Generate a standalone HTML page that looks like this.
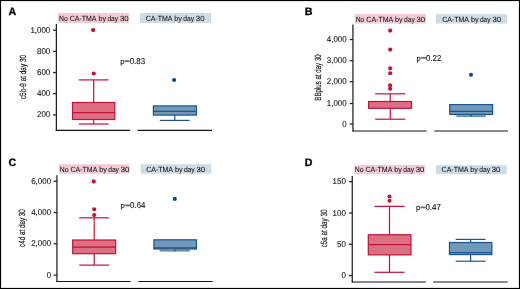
<!DOCTYPE html>
<html><head><meta charset="utf-8"><style>
html,body{margin:0;padding:0;background:#fff;}
svg{display:block;font-family:"Liberation Sans", sans-serif;will-change:transform;text-rendering:geometricPrecision;}
</style></head><body>
<svg width="520" height="289" viewBox="0 0 520 289" xmlns="http://www.w3.org/2000/svg">
<rect x="0" y="0" width="520" height="289" fill="#fff"/>
<rect x="0.5" y="0.5" width="519" height="288" fill="none" stroke="#000" stroke-width="1.2"/>
<text x="8.6" y="15.3" font-size="10.7" font-weight="bold" fill="#000" stroke="#000" stroke-width="0.3">A</text>
<rect x="58" y="13" width="71" height="10" fill="#f4cdd4"/>
<rect x="140" y="13" width="71" height="10" fill="#cfdce6"/>
<text x="59" y="20.65" font-size="7.5" fill="#111" stroke="#111" stroke-width="0.06" textLength="8.7" lengthAdjust="spacingAndGlyphs">No</text>
<text x="69.7" y="20.65" font-size="7.5" fill="#111" stroke="#111" stroke-width="0.06" textLength="26.8" lengthAdjust="spacingAndGlyphs">CA-TMA</text>
<text x="98.4" y="20.65" font-size="7.5" fill="#111" stroke="#111" stroke-width="0.06" textLength="7.6" lengthAdjust="spacingAndGlyphs">by</text>
<text x="107.4" y="20.65" font-size="7.5" fill="#111" stroke="#111" stroke-width="0.06" textLength="10.75" lengthAdjust="spacingAndGlyphs">day</text>
<text x="119.9" y="20.65" font-size="7.5" fill="#111" stroke="#111" stroke-width="0.06" textLength="8.65" lengthAdjust="spacingAndGlyphs">30</text>
<text x="145.65" y="20.65" font-size="7.5" fill="#111" stroke="#111" stroke-width="0.06" textLength="26.8" lengthAdjust="spacingAndGlyphs">CA-TMA</text>
<text x="174.35" y="20.65" font-size="7.5" fill="#111" stroke="#111" stroke-width="0.06" textLength="7.6" lengthAdjust="spacingAndGlyphs">by</text>
<text x="183.35" y="20.65" font-size="7.5" fill="#111" stroke="#111" stroke-width="0.06" textLength="10.75" lengthAdjust="spacingAndGlyphs">day</text>
<text x="195.85" y="20.65" font-size="7.5" fill="#111" stroke="#111" stroke-width="0.06" textLength="8.65" lengthAdjust="spacingAndGlyphs">30</text>
<line x1="56.35" y1="24" x2="56.35" y2="130.9" stroke="#151515" stroke-width="1.2"/>
<line x1="55.75" y1="130.3" x2="130.2" y2="130.3" stroke="#151515" stroke-width="1.2"/>
<line x1="137.6" y1="130.3" x2="211.9" y2="130.3" stroke="#151515" stroke-width="1.2"/>
<line x1="53.05" y1="30.2" x2="56.35" y2="30.2" stroke="#2a2a2a" stroke-width="1.3"/>
<text transform="translate(50.3,32.75) scale(0.95,1)" font-size="8.4" fill="#111" stroke="#111" stroke-width="0.1" text-anchor="end">1,000</text>
<line x1="53.05" y1="51.37" x2="56.35" y2="51.37" stroke="#2a2a2a" stroke-width="1.3"/>
<text transform="translate(50.3,53.92) scale(0.95,1)" font-size="8.4" fill="#111" stroke="#111" stroke-width="0.1" text-anchor="end">800</text>
<line x1="53.05" y1="72.54" x2="56.35" y2="72.54" stroke="#2a2a2a" stroke-width="1.3"/>
<text transform="translate(50.3,75.09) scale(0.95,1)" font-size="8.4" fill="#111" stroke="#111" stroke-width="0.1" text-anchor="end">600</text>
<line x1="53.05" y1="93.71" x2="56.35" y2="93.71" stroke="#2a2a2a" stroke-width="1.3"/>
<text transform="translate(50.3,96.26) scale(0.95,1)" font-size="8.4" fill="#111" stroke="#111" stroke-width="0.1" text-anchor="end">400</text>
<line x1="53.05" y1="114.88" x2="56.35" y2="114.88" stroke="#2a2a2a" stroke-width="1.3"/>
<text transform="translate(50.3,117.43) scale(0.95,1)" font-size="8.4" fill="#111" stroke="#111" stroke-width="0.1" text-anchor="end">200</text>
<line x1="93.7" y1="79.9" x2="93.7" y2="102.5" stroke="#c5103a" stroke-width="1.2"/>
<line x1="78.8" y1="79.9" x2="108.6" y2="79.9" stroke="#c5103a" stroke-width="1.2"/>
<line x1="93.7" y1="119.5" x2="93.7" y2="124" stroke="#c5103a" stroke-width="1.2"/>
<line x1="78.8" y1="124" x2="108.6" y2="124" stroke="#c5103a" stroke-width="1.2"/>
<rect x="72.5" y="102.5" width="42.3" height="17" fill="#dc7083" stroke="#c5103a" stroke-width="1.2"/>
<line x1="72.5" y1="112.6" x2="114.8" y2="112.6" stroke="#c5103a" stroke-width="1.3"/>
<circle cx="93.1" cy="30.1" r="2.05" fill="#c8102e"/>
<circle cx="93.75" cy="73.5" r="2.05" fill="#c8102e"/>
<line x1="174.75" y1="115.1" x2="174.75" y2="120.4" stroke="#1b5590" stroke-width="1.2"/>
<line x1="159.85" y1="120.4" x2="189.65" y2="120.4" stroke="#1b5590" stroke-width="1.2"/>
<rect x="153.4" y="105.9" width="43.1" height="9.2" fill="#7298b8" stroke="#1b5590" stroke-width="1.2"/>
<line x1="153.4" y1="111.3" x2="196.5" y2="111.3" stroke="#1b5590" stroke-width="1.3"/>
<circle cx="174.1" cy="80" r="2.05" fill="#0b4a85"/>
<text x="120.2" y="64" font-size="7.7" fill="#111" stroke="#111" stroke-width="0.1">p</text>
<rect x="124.8" y="60.2" width="4.9" height="1.8" fill="#6a6a6a"/>
<text x="129.7" y="64" font-size="8.5" fill="#111" stroke="#111" stroke-width="0.1" textLength="15.4" lengthAdjust="spacingAndGlyphs">0.83</text>
<text transform="translate(26.1,77.05) rotate(-90)" font-size="9.0" fill="#111" stroke="#111" stroke-width="0.15" text-anchor="middle" textLength="44.1" lengthAdjust="spacingAndGlyphs">c5b-9 at day 30</text>
<text x="304.8" y="15" font-size="10.7" font-weight="bold" fill="#000" stroke="#000" stroke-width="0.3">B</text>
<rect x="355" y="14" width="71" height="9.6" fill="#f4cdd4"/>
<rect x="436" y="14.2" width="71" height="9.4" fill="#cfdce6"/>
<text x="355.65" y="21.55" font-size="7.5" fill="#111" stroke="#111" stroke-width="0.06" textLength="8.7" lengthAdjust="spacingAndGlyphs">No</text>
<text x="366.35" y="21.55" font-size="7.5" fill="#111" stroke="#111" stroke-width="0.06" textLength="26.8" lengthAdjust="spacingAndGlyphs">CA-TMA</text>
<text x="395.05" y="21.55" font-size="7.5" fill="#111" stroke="#111" stroke-width="0.06" textLength="7.6" lengthAdjust="spacingAndGlyphs">by</text>
<text x="404.05" y="21.55" font-size="7.5" fill="#111" stroke="#111" stroke-width="0.06" textLength="10.75" lengthAdjust="spacingAndGlyphs">day</text>
<text x="416.55" y="21.55" font-size="7.5" fill="#111" stroke="#111" stroke-width="0.06" textLength="8.65" lengthAdjust="spacingAndGlyphs">30</text>
<text x="442.2" y="21.55" font-size="7.5" fill="#111" stroke="#111" stroke-width="0.06" textLength="26.8" lengthAdjust="spacingAndGlyphs">CA-TMA</text>
<text x="470.9" y="21.55" font-size="7.5" fill="#111" stroke="#111" stroke-width="0.06" textLength="7.6" lengthAdjust="spacingAndGlyphs">by</text>
<text x="479.9" y="21.55" font-size="7.5" fill="#111" stroke="#111" stroke-width="0.06" textLength="10.75" lengthAdjust="spacingAndGlyphs">day</text>
<text x="492.4" y="21.55" font-size="7.5" fill="#111" stroke="#111" stroke-width="0.06" textLength="8.65" lengthAdjust="spacingAndGlyphs">30</text>
<line x1="352.95" y1="24.6" x2="352.95" y2="131.6" stroke="#151515" stroke-width="1.2"/>
<line x1="352.35" y1="131" x2="426.5" y2="131" stroke="#151515" stroke-width="1.2"/>
<line x1="434.3" y1="131" x2="508" y2="131" stroke="#151515" stroke-width="1.2"/>
<line x1="349.65" y1="39.5" x2="352.95" y2="39.5" stroke="#2a2a2a" stroke-width="1.3"/>
<text transform="translate(346.7,42.05) scale(0.95,1)" font-size="8.4" fill="#111" stroke="#111" stroke-width="0.1" text-anchor="end">4,000</text>
<line x1="349.65" y1="60.63" x2="352.95" y2="60.63" stroke="#2a2a2a" stroke-width="1.3"/>
<text transform="translate(346.7,63.18) scale(0.95,1)" font-size="8.4" fill="#111" stroke="#111" stroke-width="0.1" text-anchor="end">3,000</text>
<line x1="349.65" y1="81.75" x2="352.95" y2="81.75" stroke="#2a2a2a" stroke-width="1.3"/>
<text transform="translate(346.7,84.3) scale(0.95,1)" font-size="8.4" fill="#111" stroke="#111" stroke-width="0.1" text-anchor="end">2,000</text>
<line x1="349.65" y1="103.5" x2="352.95" y2="103.5" stroke="#2a2a2a" stroke-width="1.3"/>
<text transform="translate(346.7,106.05) scale(0.95,1)" font-size="8.4" fill="#111" stroke="#111" stroke-width="0.1" text-anchor="end">1,000</text>
<line x1="349.65" y1="124" x2="352.95" y2="124" stroke="#2a2a2a" stroke-width="1.3"/>
<text transform="translate(346.7,126.55) scale(0.95,1)" font-size="8.4" fill="#111" stroke="#111" stroke-width="0.1" text-anchor="end">0</text>
<line x1="390.25" y1="93.8" x2="390.25" y2="101.5" stroke="#c5103a" stroke-width="1.2"/>
<line x1="375.2" y1="93.8" x2="405.3" y2="93.8" stroke="#c5103a" stroke-width="1.2"/>
<line x1="390.25" y1="108.3" x2="390.25" y2="119.2" stroke="#c5103a" stroke-width="1.2"/>
<line x1="375.2" y1="119.2" x2="405.3" y2="119.2" stroke="#c5103a" stroke-width="1.2"/>
<rect x="368.6" y="101.5" width="42.9" height="6.8" fill="#dc7083" stroke="#c5103a" stroke-width="1.2"/>
<circle cx="390.2" cy="30.6" r="2.05" fill="#c8102e"/>
<circle cx="390.2" cy="49.6" r="2.05" fill="#c8102e"/>
<circle cx="390.2" cy="68.2" r="2.05" fill="#c8102e"/>
<circle cx="390.2" cy="73.2" r="2.05" fill="#c8102e"/>
<circle cx="390.1" cy="85.4" r="2.05" fill="#c8102e"/>
<circle cx="390.1" cy="88.8" r="2.05" fill="#c8102e"/>
<line x1="471" y1="114.4" x2="471" y2="116.1" stroke="#1b5590" stroke-width="1.2"/>
<rect x="456.2" y="115.3" width="29.6" height="1.6" fill="#4f7ea6"/>
<line x1="471" y1="114.4" x2="471" y2="116.9" stroke="#1b5590" stroke-width="1"/>
<rect x="449.7" y="104.6" width="42.9" height="9.8" fill="#7298b8" stroke="#1b5590" stroke-width="1.2"/>
<line x1="449.7" y1="111.4" x2="492.6" y2="111.4" stroke="#1b5590" stroke-width="1.3"/>
<circle cx="471" cy="74.8" r="2.05" fill="#0b4a85"/>
<text x="416.5" y="60.7" font-size="7.7" fill="#111" stroke="#111" stroke-width="0.1">p</text>
<rect x="421.1" y="56.9" width="4.9" height="1.8" fill="#6a6a6a"/>
<text x="426" y="60.7" font-size="8.5" fill="#111" stroke="#111" stroke-width="0.1" textLength="15.4" lengthAdjust="spacingAndGlyphs">0.22</text>
<text transform="translate(321.3,77.5) rotate(-90)" font-size="9.0" fill="#111" stroke="#111" stroke-width="0.15" text-anchor="middle" textLength="46.4" lengthAdjust="spacingAndGlyphs">BBplus at day 30</text>
<text x="8.6" y="166.3" font-size="10.7" font-weight="bold" fill="#000" stroke="#000" stroke-width="0.3">C</text>
<rect x="58.9" y="164.2" width="70.7" height="9.5" fill="#f4cdd4"/>
<rect x="140.6" y="164.2" width="70.7" height="9.6" fill="#cfdce6"/>
<text x="59.8" y="171.75" font-size="7.5" fill="#111" stroke="#111" stroke-width="0.06" textLength="8.7" lengthAdjust="spacingAndGlyphs">No</text>
<text x="70.5" y="171.75" font-size="7.5" fill="#111" stroke="#111" stroke-width="0.06" textLength="26.8" lengthAdjust="spacingAndGlyphs">CA-TMA</text>
<text x="99.2" y="171.75" font-size="7.5" fill="#111" stroke="#111" stroke-width="0.06" textLength="7.6" lengthAdjust="spacingAndGlyphs">by</text>
<text x="108.2" y="171.75" font-size="7.5" fill="#111" stroke="#111" stroke-width="0.06" textLength="10.75" lengthAdjust="spacingAndGlyphs">day</text>
<text x="120.7" y="171.75" font-size="7.5" fill="#111" stroke="#111" stroke-width="0.06" textLength="8.65" lengthAdjust="spacingAndGlyphs">30</text>
<text x="146.2" y="171.75" font-size="7.5" fill="#111" stroke="#111" stroke-width="0.06" textLength="26.8" lengthAdjust="spacingAndGlyphs">CA-TMA</text>
<text x="174.9" y="171.75" font-size="7.5" fill="#111" stroke="#111" stroke-width="0.06" textLength="7.6" lengthAdjust="spacingAndGlyphs">by</text>
<text x="183.9" y="171.75" font-size="7.5" fill="#111" stroke="#111" stroke-width="0.06" textLength="10.75" lengthAdjust="spacingAndGlyphs">day</text>
<text x="196.4" y="171.75" font-size="7.5" fill="#111" stroke="#111" stroke-width="0.06" textLength="8.65" lengthAdjust="spacingAndGlyphs">30</text>
<line x1="56.95" y1="175.2" x2="56.95" y2="282.1" stroke="#151515" stroke-width="1.2"/>
<line x1="56.35" y1="281.5" x2="130.6" y2="281.5" stroke="#151515" stroke-width="1.2"/>
<line x1="138.3" y1="281.5" x2="212.7" y2="281.5" stroke="#151515" stroke-width="1.2"/>
<line x1="53.65" y1="181.3" x2="56.95" y2="181.3" stroke="#2a2a2a" stroke-width="1.3"/>
<text transform="translate(51.1,183.85) scale(0.95,1)" font-size="8.4" fill="#111" stroke="#111" stroke-width="0.1" text-anchor="end">6,000</text>
<line x1="53.65" y1="212.57" x2="56.95" y2="212.57" stroke="#2a2a2a" stroke-width="1.3"/>
<text transform="translate(51.1,215.12) scale(0.95,1)" font-size="8.4" fill="#111" stroke="#111" stroke-width="0.1" text-anchor="end">4,000</text>
<line x1="53.65" y1="243.83" x2="56.95" y2="243.83" stroke="#2a2a2a" stroke-width="1.3"/>
<text transform="translate(51.1,246.38) scale(0.95,1)" font-size="8.4" fill="#111" stroke="#111" stroke-width="0.1" text-anchor="end">2,000</text>
<line x1="53.65" y1="275.1" x2="56.95" y2="275.1" stroke="#2a2a2a" stroke-width="1.3"/>
<text transform="translate(51.1,277.65) scale(0.95,1)" font-size="8.4" fill="#111" stroke="#111" stroke-width="0.1" text-anchor="end">0</text>
<line x1="94.2" y1="217.8" x2="94.2" y2="240" stroke="#c5103a" stroke-width="1.2"/>
<line x1="79.2" y1="217.8" x2="109.2" y2="217.8" stroke="#c5103a" stroke-width="1.2"/>
<line x1="94.2" y1="253.7" x2="94.2" y2="265.1" stroke="#c5103a" stroke-width="1.2"/>
<line x1="79.2" y1="265.1" x2="109.2" y2="265.1" stroke="#c5103a" stroke-width="1.2"/>
<rect x="72.7" y="240" width="42.9" height="13.7" fill="#dc7083" stroke="#c5103a" stroke-width="1.2"/>
<line x1="72.7" y1="247.1" x2="115.6" y2="247.1" stroke="#c5103a" stroke-width="1.3"/>
<circle cx="93.75" cy="181.4" r="2.05" fill="#c8102e"/>
<circle cx="94.2" cy="209.3" r="2.05" fill="#c8102e"/>
<circle cx="94.2" cy="215.1" r="2.05" fill="#c8102e"/>
<line x1="174.75" y1="249" x2="174.75" y2="251.1" stroke="#1b5590" stroke-width="1.2"/>
<rect x="159.7" y="249.6" width="30.1" height="2" fill="#6a91b3"/>
<line x1="174.75" y1="249" x2="174.75" y2="251.6" stroke="#1b5590" stroke-width="1"/>
<rect x="153.9" y="239.8" width="42.55" height="9.2" fill="#7298b8" stroke="#1b5590" stroke-width="1.2"/>
<line x1="153.9" y1="247.9" x2="196.45" y2="247.9" stroke="#1b5590" stroke-width="1.3"/>
<circle cx="174.75" cy="198.9" r="2.05" fill="#0b4a85"/>
<text x="120.6" y="208.3" font-size="7.7" fill="#111" stroke="#111" stroke-width="0.1">p</text>
<rect x="125.2" y="204.5" width="4.9" height="1.8" fill="#6a6a6a"/>
<text x="130.1" y="208.3" font-size="8.5" fill="#111" stroke="#111" stroke-width="0.1" textLength="15.4" lengthAdjust="spacingAndGlyphs">0.64</text>
<text transform="translate(25.3,228.05) rotate(-90)" font-size="9.0" fill="#111" stroke="#111" stroke-width="0.15" text-anchor="middle" textLength="37.8" lengthAdjust="spacingAndGlyphs">c4d at day 30</text>
<text x="304.8" y="166.4" font-size="10.7" font-weight="bold" fill="#000" stroke="#000" stroke-width="0.3">D</text>
<rect x="354.3" y="165" width="70.7" height="9.2" fill="#f4cdd4"/>
<rect x="435.8" y="165.2" width="71" height="9" fill="#cfdce6"/>
<text x="354.85" y="172.25" font-size="7.5" fill="#111" stroke="#111" stroke-width="0.06" textLength="8.7" lengthAdjust="spacingAndGlyphs">No</text>
<text x="365.55" y="172.25" font-size="7.5" fill="#111" stroke="#111" stroke-width="0.06" textLength="26.8" lengthAdjust="spacingAndGlyphs">CA-TMA</text>
<text x="394.25" y="172.25" font-size="7.5" fill="#111" stroke="#111" stroke-width="0.06" textLength="7.6" lengthAdjust="spacingAndGlyphs">by</text>
<text x="403.25" y="172.25" font-size="7.5" fill="#111" stroke="#111" stroke-width="0.06" textLength="10.75" lengthAdjust="spacingAndGlyphs">day</text>
<text x="415.75" y="172.25" font-size="7.5" fill="#111" stroke="#111" stroke-width="0.06" textLength="8.65" lengthAdjust="spacingAndGlyphs">30</text>
<text x="441.6" y="172.25" font-size="7.5" fill="#111" stroke="#111" stroke-width="0.06" textLength="26.8" lengthAdjust="spacingAndGlyphs">CA-TMA</text>
<text x="470.3" y="172.25" font-size="7.5" fill="#111" stroke="#111" stroke-width="0.06" textLength="7.6" lengthAdjust="spacingAndGlyphs">by</text>
<text x="479.3" y="172.25" font-size="7.5" fill="#111" stroke="#111" stroke-width="0.06" textLength="10.75" lengthAdjust="spacingAndGlyphs">day</text>
<text x="491.8" y="172.25" font-size="7.5" fill="#111" stroke="#111" stroke-width="0.06" textLength="8.65" lengthAdjust="spacingAndGlyphs">30</text>
<line x1="352.25" y1="176.1" x2="352.25" y2="282.6" stroke="#151515" stroke-width="1.2"/>
<line x1="351.65" y1="282" x2="425.9" y2="282" stroke="#151515" stroke-width="1.2"/>
<line x1="433.2" y1="282" x2="507.7" y2="282" stroke="#151515" stroke-width="1.2"/>
<line x1="348.95" y1="181.7" x2="352.25" y2="181.7" stroke="#2a2a2a" stroke-width="1.3"/>
<text transform="translate(345.9,184.25) scale(0.95,1)" font-size="8.4" fill="#111" stroke="#111" stroke-width="0.1" text-anchor="end">150</text>
<line x1="348.95" y1="212.97" x2="352.25" y2="212.97" stroke="#2a2a2a" stroke-width="1.3"/>
<text transform="translate(345.9,215.52) scale(0.95,1)" font-size="8.4" fill="#111" stroke="#111" stroke-width="0.1" text-anchor="end">100</text>
<line x1="348.95" y1="244.23" x2="352.25" y2="244.23" stroke="#2a2a2a" stroke-width="1.3"/>
<text transform="translate(345.9,246.78) scale(0.95,1)" font-size="8.4" fill="#111" stroke="#111" stroke-width="0.1" text-anchor="end">50</text>
<line x1="348.95" y1="275.5" x2="352.25" y2="275.5" stroke="#2a2a2a" stroke-width="1.3"/>
<text transform="translate(345.9,278.05) scale(0.95,1)" font-size="8.4" fill="#111" stroke="#111" stroke-width="0.1" text-anchor="end">0</text>
<line x1="389.5" y1="206.4" x2="389.5" y2="234.75" stroke="#c5103a" stroke-width="1.2"/>
<line x1="374.4" y1="206.4" x2="404.6" y2="206.4" stroke="#c5103a" stroke-width="1.2"/>
<line x1="389.5" y1="254.85" x2="389.5" y2="272.3" stroke="#c5103a" stroke-width="1.2"/>
<line x1="374.4" y1="272.3" x2="404.6" y2="272.3" stroke="#c5103a" stroke-width="1.2"/>
<rect x="368.3" y="234.75" width="42.65" height="20.1" fill="#dc7083" stroke="#c5103a" stroke-width="1.2"/>
<line x1="368.3" y1="244.55" x2="410.95" y2="244.55" stroke="#c5103a" stroke-width="1.3"/>
<circle cx="389.5" cy="196.5" r="2.05" fill="#c8102e"/>
<circle cx="389.5" cy="200.8" r="2.05" fill="#c8102e"/>
<line x1="470.6" y1="239.4" x2="470.6" y2="242.5" stroke="#1b5590" stroke-width="1.2"/>
<line x1="455.6" y1="239.4" x2="485.6" y2="239.4" stroke="#1b5590" stroke-width="1.2"/>
<line x1="470.6" y1="254.6" x2="470.6" y2="261.2" stroke="#1b5590" stroke-width="1.2"/>
<line x1="455.6" y1="261.2" x2="485.6" y2="261.2" stroke="#1b5590" stroke-width="1.2"/>
<rect x="449.45" y="242.5" width="42.4" height="12.1" fill="#7298b8" stroke="#1b5590" stroke-width="1.2"/>
<line x1="449.45" y1="252.7" x2="491.85" y2="252.7" stroke="#1b5590" stroke-width="1.3"/>
<text x="415.9" y="210.3" font-size="7.7" fill="#111" stroke="#111" stroke-width="0.1">p</text>
<rect x="420.5" y="206.5" width="4.9" height="1.8" fill="#6a6a6a"/>
<text x="425.4" y="210.3" font-size="8.5" fill="#111" stroke="#111" stroke-width="0.1" textLength="15.4" lengthAdjust="spacingAndGlyphs">0.47</text>
<text transform="translate(327.4,228.4) rotate(-90)" font-size="9.0" fill="#111" stroke="#111" stroke-width="0.15" text-anchor="middle" textLength="37.8" lengthAdjust="spacingAndGlyphs">c5a at day 30</text>
</svg>
</body></html>
